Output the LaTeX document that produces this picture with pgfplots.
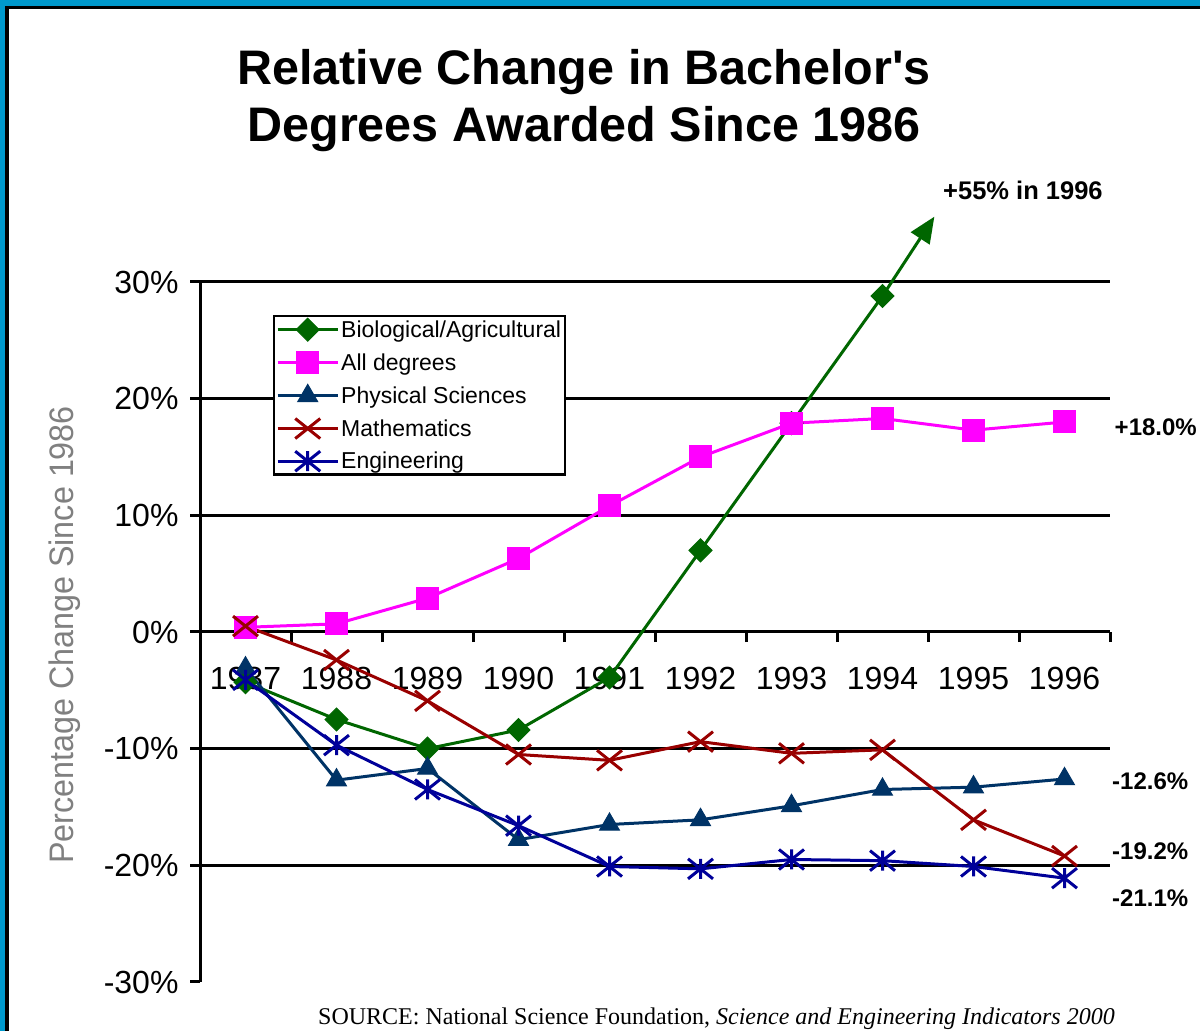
\documentclass[border=0pt]{standalone}
\usepackage{pgfplots}
\pgfplotsset{compat=1.18}
\usepackage{fontspec}
\setmainfont{Liberation Sans}
\newfontfamily\serifrm{Liberation Serif}
\newfontfamily\narrowsans[FakeStretch=0.95]{Liberation Sans}
\usetikzlibrary{arrows.meta}
\definecolor{bio}{RGB}{0,102,0}
\definecolor{alld}{RGB}{255,0,255}
\definecolor{phys}{RGB}{0,51,102}
\definecolor{mathc}{RGB}{153,0,0}
\definecolor{eng}{RGB}{0,0,153}
\definecolor{slide}{RGB}{0,153,204}
\definecolor{labgray}{RGB}{128,128,128}

\pgfdeclareplotmark{xdiam}{%
  \pgfpathmoveto{\pgfqpoint{0pt}{\pgfplotmarksize}}%
  \pgfpathlineto{\pgfqpoint{\pgfplotmarksize}{0pt}}%
  \pgfpathlineto{\pgfqpoint{0pt}{-\pgfplotmarksize}}%
  \pgfpathlineto{\pgfqpoint{-\pgfplotmarksize}{0pt}}%
  \pgfpathclose
  \pgfusepathqfillstroke}
\pgfdeclareplotmark{xcross}{%
  \pgfpathmoveto{\pgfqpoint{-1.25\pgfplotmarksize}{-\pgfplotmarksize}}%
  \pgfpathlineto{\pgfqpoint{1.25\pgfplotmarksize}{\pgfplotmarksize}}%
  \pgfpathmoveto{\pgfqpoint{-1.25\pgfplotmarksize}{\pgfplotmarksize}}%
  \pgfpathlineto{\pgfqpoint{1.25\pgfplotmarksize}{-\pgfplotmarksize}}%
  \pgfusepathqstroke}
\pgfdeclareplotmark{xstar}{%
  \pgfpathmoveto{\pgfqpoint{-1.25\pgfplotmarksize}{-\pgfplotmarksize}}%
  \pgfpathlineto{\pgfqpoint{1.25\pgfplotmarksize}{\pgfplotmarksize}}%
  \pgfpathmoveto{\pgfqpoint{-1.25\pgfplotmarksize}{\pgfplotmarksize}}%
  \pgfpathlineto{\pgfqpoint{1.25\pgfplotmarksize}{-\pgfplotmarksize}}%
  \pgfpathmoveto{\pgfqpoint{0pt}{-\pgfplotmarksize}}%
  \pgfpathlineto{\pgfqpoint{0pt}{\pgfplotmarksize}}%
  \pgfusepathqstroke}

\begin{document}
\begin{tikzpicture}[x=1pt,y=1pt]
\clip (0,0) rectangle (1200,1031);
\fill[white] (0,0) rectangle (1200,1031);
\fill[slide] (0,1025) rectangle (1200,1031);
\fill[slide] (0,0) rectangle (5,1031);
\fill[black] (5,1022) rectangle (1200,1025);
\fill[black] (5,0) rectangle (9,1025);

\node[align=center, font=\bfseries\fontsize{48.5}{57}\selectfont] at (584,930)
  {Relative Change in Bachelor\textquotesingle s\\Degrees Awarded Since 1986};

\node[rotate=90, font=\narrowsans\fontsize{34}{34}\selectfont, text=labgray] at (65,396)
  {Percentage Change Since 1986};

\begin{axis}[
  at={(200pt,49pt)}, anchor=south west, scale only axis,
  width=910pt, height=700pt,
  xmin=-0.5, xmax=9.5, ymin=-30, ymax=30,
  clip=false,
  axis x line=middle, axis y line=left,
  axis line style={-, line width=3pt},
  tick style={line width=3pt, black},
  major tick length=10pt,
  tick align=outside,
  ytick={-30,-20,-10,0,10,20,30},
  yticklabels={-30\%,-20\%,-10\%,0\%,10\%,20\%,30\%},
  xtick={-0.5,0.5,1.5,2.5,3.5,4.5,5.5,6.5,7.5,8.5,9.5},
  xticklabels={},
  extra x ticks={0,1,2,3,4,5,6,7,8,9},
  extra x tick labels={1987,1988,1989,1990,1991,1992,1993,1994,1995,1996},
  extra x tick style={major tick length=0pt, xticklabel style={yshift=-32pt}},
  tick label style={font=\fontsize{32}{32}\selectfont},
  yticklabel style={anchor=east, xshift=-8pt},
  legend style={at={(0.0802,0.9529)}, anchor=north west, draw=black, line width=2.5pt,
    font=\fontsize{23}{26}\selectfont, row sep=10.5pt, inner sep=2pt, cells={anchor=west}},
  legend cell align=left,
  legend image code/.code={\draw[mark repeat=2,mark phase=2] plot coordinates {(0pt,0pt) (30pt,0pt) (60pt,0pt)};},
]
\pgfplotsinvokeforeach{30,20,10,-10,-20}{
  \draw[line width=3pt] (axis cs:-0.5,#1) -- (axis cs:9.5,#1);
}
\addplot[bio, line width=3pt, mark=xdiam, mark size=11.5pt, mark options={fill=bio, line width=1pt}]
  coordinates {(0,-4.3) (1,-7.5) (2,-10.0) (3,-8.4) (4,-3.9) (5,7.0) (6,17.9) (7,28.8)};
\addlegendentry{Biological/Agricultural\hspace{16pt}}
\addplot[bio, line width=3pt, -{Triangle[width=22pt,length=26pt]}, forget plot]
  coordinates {(7,28.8) (7.57,35.6)};
\addplot[alld, line width=3pt, mark=square*, mark size=11pt, mark options={fill=alld, line width=1pt}]
  coordinates {(0,0.4) (1,0.7) (2,2.9) (3,6.3) (4,10.8) (5,15.0) (6,17.9) (7,18.3) (8,17.3) (9,18.0)};
\addlegendentry{All degrees}
\addplot[phys, line width=3pt, mark=triangle*, mark size=11.5pt, mark options={fill=phys, line width=1pt}]
  coordinates {(0,-3.1) (1,-12.7) (2,-11.7) (3,-17.8) (4,-16.5) (5,-16.1) (6,-14.9) (7,-13.5) (8,-13.3) (9,-12.6)};
\addlegendentry{Physical Sciences}
\addplot[mathc, line width=3pt, mark=xcross, mark size=10pt, mark options={line width=3pt}]
  coordinates {(0,0.5) (1,-2.4) (2,-5.9) (3,-10.5) (4,-11.0) (5,-9.4) (6,-10.4) (7,-10.1) (8,-16.1) (9,-19.2)};
\addlegendentry{Mathematics}
\addplot[eng, line width=3pt, mark=xstar, mark size=10pt, mark options={line width=3pt}]
  coordinates {(0,-4.1) (1,-9.7) (2,-13.5) (3,-16.6) (4,-20.1) (5,-20.3) (6,-19.5) (7,-19.6) (8,-20.1) (9,-21.1)};
\addlegendentry{Engineering}
\end{axis}

\begin{scope}[every node/.style={font=\bfseries\fontsize{24}{24}\selectfont, anchor=west, inner sep=0pt}]
\node[font=\bfseries\fontsize{25.5}{25.5}\selectfont] at (943,841) {+55\% in 1996};
\node[anchor=east] at (1197,604) {+18.0\%};
\node at (1112,250) {-12.6\%};
\node at (1112,180) {-19.2\%};
\node at (1112,133) {-21.1\%};
\end{scope}

\node[anchor=base west, inner sep=0pt, font=\serifrm\fontsize{24}{24}\selectfont] at (318,6)
  {SOURCE: National Science Foundation, \textit{Science and Engineering Indicators 2000}};
\end{tikzpicture}
\end{document}
